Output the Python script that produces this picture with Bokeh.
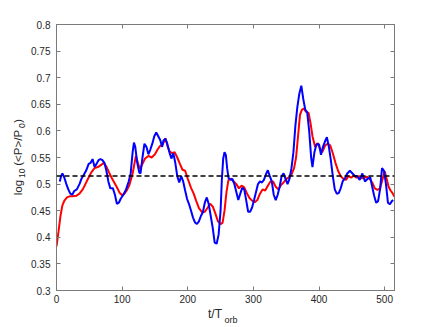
from bokeh.plotting import figure
from bokeh.models import (Range1d, LinearAxis, FixedTicker, CustomJSTickFormatter,
                          Span, Div)
from bokeh.layouts import row, column
from bokeh.embed import file_html
from bokeh.resources import INLINE

# ---------------- data ----------------
t_red = [0, 3, 6, 9, 12, 16, 20, 25, 30, 35, 40, 44, 48, 53, 58, 63, 68, 72, 76, 80,
         84, 88, 92, 96, 100, 104, 107, 111, 116, 119, 121, 124, 127, 131, 135, 140,
         145, 150, 154, 158, 162, 166, 169, 172, 176, 180, 184, 188, 192, 196, 200,
         205, 209, 213, 217, 222, 226, 230, 234, 238, 242, 246, 250, 253, 256, 259,
         262, 266, 270, 274, 278, 282, 286, 290, 294, 298, 302, 306, 310, 314, 318,
         322, 326, 330, 334, 338, 342, 346, 350, 354, 358, 362, 365, 368, 371, 374,
         377, 380, 384, 387, 390, 394, 398, 402, 405, 409, 413, 417, 421, 425, 429,
         433, 437, 441, 445, 449, 453, 457, 461, 465, 469, 473, 477, 481, 485, 489,
         493, 497, 500, 503, 506, 509, 512, 515]
v_red = [0.383, 0.41, 0.44, 0.46, 0.469, 0.475, 0.477, 0.477, 0.478, 0.482, 0.49,
         0.5, 0.51, 0.522, 0.53, 0.532, 0.536, 0.54, 0.533, 0.522, 0.512, 0.503,
         0.494, 0.484, 0.479, 0.483, 0.488, 0.498, 0.52, 0.54, 0.553, 0.54, 0.528,
         0.538, 0.548, 0.553, 0.55, 0.556, 0.565, 0.572, 0.575, 0.586, 0.572, 0.562,
         0.558, 0.56, 0.55, 0.538, 0.527, 0.525, 0.51, 0.493, 0.482, 0.468, 0.455,
         0.447, 0.448, 0.455, 0.463, 0.458, 0.445, 0.43, 0.425, 0.427, 0.45, 0.485,
         0.508, 0.51, 0.505, 0.5, 0.492, 0.497, 0.494, 0.483, 0.474, 0.469, 0.466,
         0.47, 0.482, 0.49, 0.488, 0.497, 0.505, 0.505, 0.495, 0.49, 0.498, 0.503,
         0.51, 0.512, 0.518, 0.53, 0.55, 0.59, 0.63, 0.64, 0.642, 0.636, 0.634,
         0.615, 0.59, 0.57, 0.577, 0.565, 0.56, 0.572, 0.576, 0.573, 0.558, 0.54,
         0.525, 0.515, 0.51, 0.508, 0.515, 0.512, 0.516, 0.512, 0.515, 0.511, 0.512,
         0.514, 0.51, 0.503, 0.492, 0.489, 0.492, 0.51, 0.524, 0.51, 0.495, 0.488,
         0.483, 0.476]

t_blue = [5, 7, 9, 12, 15, 18, 21, 24, 27, 31, 35, 38, 41, 45, 49, 52, 55, 58, 61,
          64, 67, 70, 73, 76, 79, 82, 86, 89, 92, 95, 98, 102, 106, 110, 113, 116,
          118, 120, 123, 126, 128, 131, 134, 137, 140, 143, 146, 149, 152, 155, 158,
          161, 163, 166, 169, 172, 175, 178, 181, 184, 187, 190, 193, 196, 199, 202,
          205, 208, 211, 214, 217, 220, 223, 226, 229, 232, 235, 238, 241, 244, 247,
          250, 252, 254, 256, 258, 260, 262, 265, 268, 271, 274, 277, 280, 283, 286,
          289, 292, 295, 298, 301, 304, 307, 310, 313, 316, 319, 322, 325, 328, 331,
          334, 337, 340, 343, 346, 349, 352, 355, 358, 361, 364, 367, 370, 373, 376,
          379, 382, 385, 388, 390, 393, 396, 400, 403, 406, 409, 412, 415, 418, 421,
          424, 427, 430, 433, 436, 440, 443, 447, 451, 455, 458, 462, 466, 470, 474,
          478, 481, 484, 487, 490, 493, 496, 499, 502, 505, 508, 511, 513]
v_blue = [0.505, 0.515, 0.52, 0.512, 0.5, 0.49, 0.482, 0.48, 0.487, 0.49, 0.5, 0.51,
          0.516, 0.525, 0.538, 0.54, 0.547, 0.532, 0.538, 0.545, 0.547, 0.545, 0.54,
          0.525, 0.505, 0.492, 0.492, 0.48, 0.463, 0.465, 0.473, 0.48, 0.49, 0.505,
          0.52, 0.56, 0.578, 0.57, 0.54, 0.522, 0.52, 0.55, 0.576, 0.57, 0.556, 0.565,
          0.576, 0.59, 0.597, 0.59, 0.583, 0.57, 0.582, 0.585, 0.575, 0.56, 0.548,
          0.558, 0.54, 0.515, 0.503, 0.515, 0.505, 0.488, 0.472, 0.462, 0.45, 0.437,
          0.428, 0.425, 0.43, 0.44, 0.447, 0.465, 0.475, 0.462, 0.44, 0.418, 0.39,
          0.388, 0.405, 0.45, 0.51, 0.548, 0.56, 0.555, 0.53, 0.512, 0.508, 0.51,
          0.5, 0.485, 0.47, 0.482, 0.493, 0.49, 0.47, 0.448, 0.448, 0.456, 0.47,
          0.485, 0.5, 0.505, 0.503, 0.508, 0.518, 0.526, 0.515, 0.505, 0.48, 0.47,
          0.48, 0.495, 0.515, 0.52, 0.51, 0.5, 0.51, 0.53, 0.56, 0.61, 0.645, 0.67,
          0.685, 0.66, 0.64, 0.635, 0.6, 0.55, 0.532, 0.56, 0.575, 0.575, 0.555,
          0.57, 0.58, 0.588, 0.57, 0.545, 0.515, 0.49, 0.482, 0.483, 0.492, 0.505,
          0.512, 0.52, 0.525, 0.52, 0.515, 0.515, 0.508, 0.52, 0.505, 0.51, 0.513,
          0.495, 0.478, 0.465, 0.468, 0.49, 0.53, 0.525, 0.5, 0.465, 0.462, 0.468,
          0.47]

ref_level = 0.515
x_ticks = [0, 100, 200, 300, 400, 500]
y_ticks = [0.3, 0.35, 0.4, 0.45, 0.5, 0.55, 0.6, 0.65, 0.7, 0.75, 0.8]
x_limits = (0, 515)
y_limits = (0.3, 0.8)

# ---------------- figure ----------------
FONT = "Liberation Sans"
AX = "#7a7a7a"
TXT = "#262626"

YLAB_W = 28
FIG_W, FIG_H = 436 - YLAB_W, 307
XLAB_H = 327 - FIG_H

p = figure(width=FIG_W, height=FIG_H, output_backend="svg", toolbar_location=None,
           x_range=Range1d(*x_limits), y_range=Range1d(*y_limits),
           min_border_left=56 - YLAB_W, min_border_right=FIG_W - (56 - YLAB_W) - 338,
           min_border_top=24, min_border_bottom=FIG_H - 24 - 266,
           x_axis_location=None, y_axis_location=None)
p.background_fill_color = "white"
p.border_fill_color = "white"
p.outline_line_color = AX
p.outline_line_width = 1
p.xgrid.visible = False
p.ygrid.visible = False

fmt = CustomJSTickFormatter(code="return String(Number(tick.toFixed(2)));")

def make_axis(ticks, show_labels, standoff):
    ax = LinearAxis(ticker=FixedTicker(ticks=ticks), formatter=fmt)
    ax.axis_line_color = AX
    ax.major_tick_line_color = AX
    ax.major_tick_in = 4
    ax.major_tick_out = 0
    ax.minor_tick_line_color = None
    ax.major_label_text_font = FONT
    ax.major_label_text_color = TXT
    ax.major_label_standoff = standoff
    if show_labels:
        ax.major_label_text_font_size = "10px"
    else:
        ax.major_label_text_font_size = "0px"
        ax.major_label_text_alpha = 0
    return ax

p.add_layout(make_axis(x_ticks, True, 4), "below")
p.add_layout(make_axis(y_ticks, True, 6), "left")
p.add_layout(make_axis(x_ticks, False, 0), "above")
p.add_layout(make_axis(y_ticks, False, 0), "right")

p.add_layout(Span(location=ref_level, dimension="width", line_color="black",
                  line_width=1.5, line_dash="5 3"))

p.line(t_red, v_red, line_color="#ff0000", line_width=2)
p.line(t_blue, v_blue, line_color="#0000ff", line_width=2)

# ---------------- axis labels with subscripts (HTML text) ----------------
base = f"font-family:'{FONT}',sans-serif;color:{TXT};white-space:nowrap;"
sub_y = "font-size:8.5px;position:relative;left:-4px;"
ylab_html = (
    f'<div style="width:{YLAB_W}px;height:315px;display:flex;align-items:center;'
    f'justify-content:flex-start;padding-left:10px;box-sizing:border-box;">'
    f'<span style="{base}font-size:11.5px;writing-mode:vertical-rl;'
    f'transform:rotate(180deg);">log<span style="{sub_y}">&nbsp;10&nbsp;</span>'
    f'(&lt;P&gt;/P<span style="{sub_y}">&nbsp;0</span>)</span></div>'
)
xlab_html = (
    f'<div style="width:{FIG_W}px;height:{XLAB_H}px;position:relative;">'
    f'<span style="{base}font-size:12px;position:absolute;left:{208 - YLAB_W}px;top:-1px;">'
    f't/T<span style="font-size:9px;position:relative;top:5px;">&nbsp;orb</span></span></div>'
)
ydiv = Div(text=ylab_html, width=YLAB_W, height=327, margin=0)
xdiv = Div(text=xlab_html, width=FIG_W, height=XLAB_H, margin=0)

layout = row(ydiv, column(p, xdiv, spacing=0), spacing=0)
open("out.html", "w").write(file_html(layout, INLINE))
